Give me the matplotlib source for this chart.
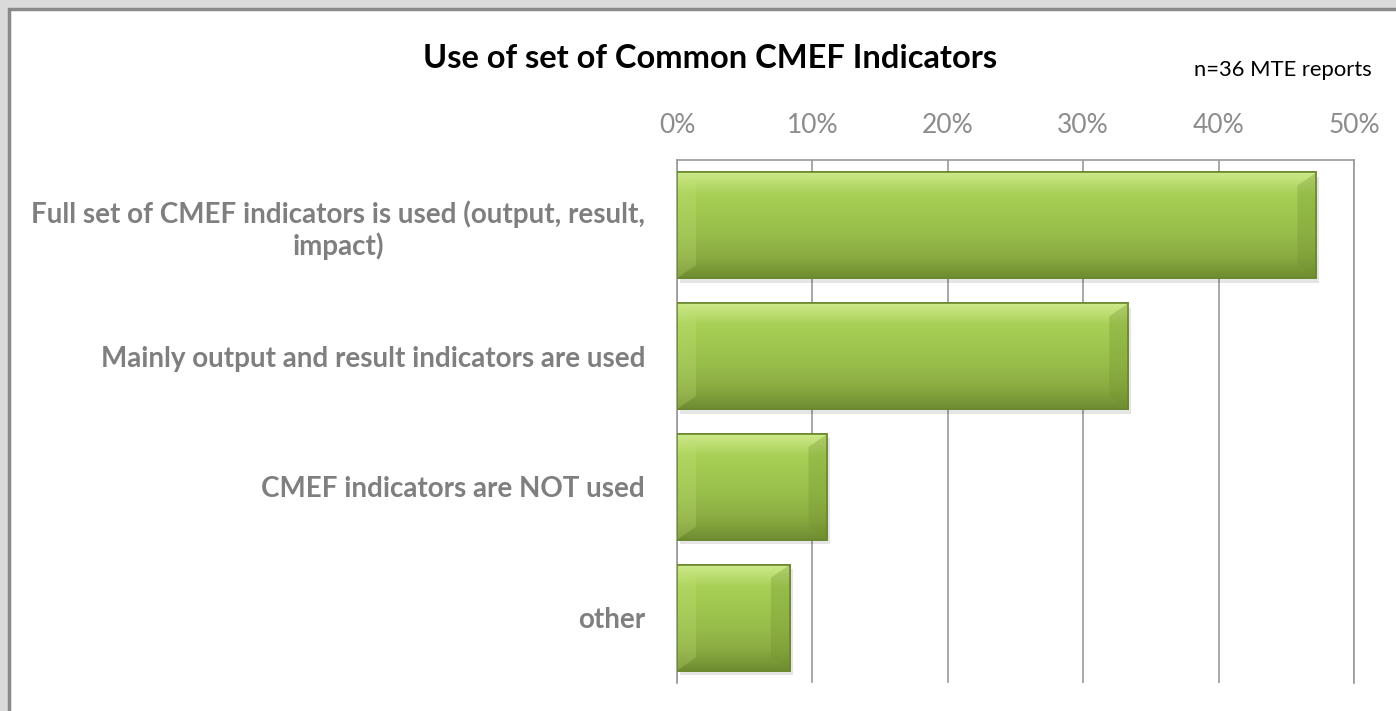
import numpy as np
import matplotlib.pyplot as plt
from matplotlib.patches import Rectangle, Polygon
from matplotlib.colors import LinearSegmentedColormap

plt.rcParams['font.family'] = ['Lato', 'DejaVu Sans']

# data
categories = ['Full set of CMEF indicators is used (output, result,\nimpact)',
              'Mainly output and result indicators are used',
              'CMEF indicators are NOT used',
              'other']
shares = [17/36, 12/36, 4/36, 3/36]
xticks = [0, 0.1, 0.2, 0.3, 0.4, 0.5]
xtick_labels = ['0%', '10%', '20%', '30%', '40%', '50%']

fig = plt.figure(figsize=(13.96, 7.11), dpi=100)
fig.patch.set_facecolor('#dadada')
# white chart frame (cut at right and bottom like the screenshot)
fig.add_artist(Rectangle((9/1396, -0.05), 1.1, 1 - 9/711 + 0.05, transform=fig.transFigure,
                         facecolor='white', edgecolor='#8a8a8a', linewidth=2.5, zorder=0))

ax = fig.add_axes([677/1396, 28/711, (1354 - 677)/1396, (683 - 160)/711])
ax.set_facecolor('none')
y = np.arange(len(categories))
bars = ax.barh(y, shares, height=0.81, color='#9cc44c', edgecolor='#6a872d', linewidth=1.2, zorder=3)

# vertical gradient inside bars, plus a bevel look
cmap = LinearSegmentedColormap.from_list('g', ['#cde98a', '#a8d056', '#9fc74f', '#97bc4a', '#8aab41', '#6f8d31'])
grad = np.linspace(0, 1, 100).reshape(-1, 1)
for b in bars:
    x0, y0, w, h = b.get_x(), b.get_y(), b.get_width(), b.get_height()
    # soft shadow
    ax.add_patch(Rectangle((x0 + 0.002, y0 + 0.035), w, h, facecolor='#000000', alpha=0.10,
                           edgecolor='none', zorder=2))
    im = ax.imshow(grad, cmap=cmap, aspect='auto', extent=(x0, x0 + w, y0 + h, y0),
                   zorder=3.5, interpolation='bicubic')
    im.set_clip_path(b)
    # darker right bevel
    dx = 0.014
    dy = 0.1
    ax.add_patch(Polygon([(x0 + w, y0), (x0 + w, y0 + h), (x0 + w - dx, y0 + h - dy), (x0 + w - dx, y0 + dy)],
                         closed=True, facecolor='#6f8f2e', alpha=0.3, edgecolor='none', zorder=3.6))
    # lighter left bevel
    ax.add_patch(Polygon([(x0, y0), (x0, y0 + h), (x0 + dx, y0 + h - dy), (x0 + dx, y0 + dy)],
                         closed=True, facecolor='#c8e47e', alpha=0.25, edgecolor='none', zorder=3.6))
    ax.add_patch(Rectangle((x0, y0), w, h, facecolor='none', edgecolor='#6a872d', linewidth=1.2, zorder=3.7))

ax.set_ylim(len(categories) - 0.5, -0.5)
ax.set_xlim(0, 0.5)
ax.xaxis.tick_top()
ax.set_xticks(xticks)
ax.set_xticklabels(xtick_labels, color='#8c8c8c', fontsize=19)
ax.tick_params(axis='x', length=0, pad=16)
ax.set_yticks(y)
ax.set_yticklabels(categories, color='#7f7f7f', fontsize=20, fontweight='bold',
                   multialignment='center')
ax.tick_params(axis='y', length=0, pad=23)
ax.grid(axis='x', color='#9a9a9a', linewidth=1.2, zorder=0)
for s in ['left', 'top', 'right']:
    ax.spines[s].set_color('#9a9a9a')
    ax.spines[s].set_linewidth(1.2)
ax.spines['bottom'].set_visible(False)

fig.text(710/1396, 1 - 58/711, 'Use of set of Common CMEF Indicators', ha='center', va='center',
         fontsize=23.5, fontweight='bold', color='black')
fig.text(1372/1396, 1 - 70/711, 'n=36 MTE reports', ha='right', va='center',
         fontsize=15.8, color='black')

plt.savefig('out.png', dpi=100, facecolor=fig.get_facecolor())
